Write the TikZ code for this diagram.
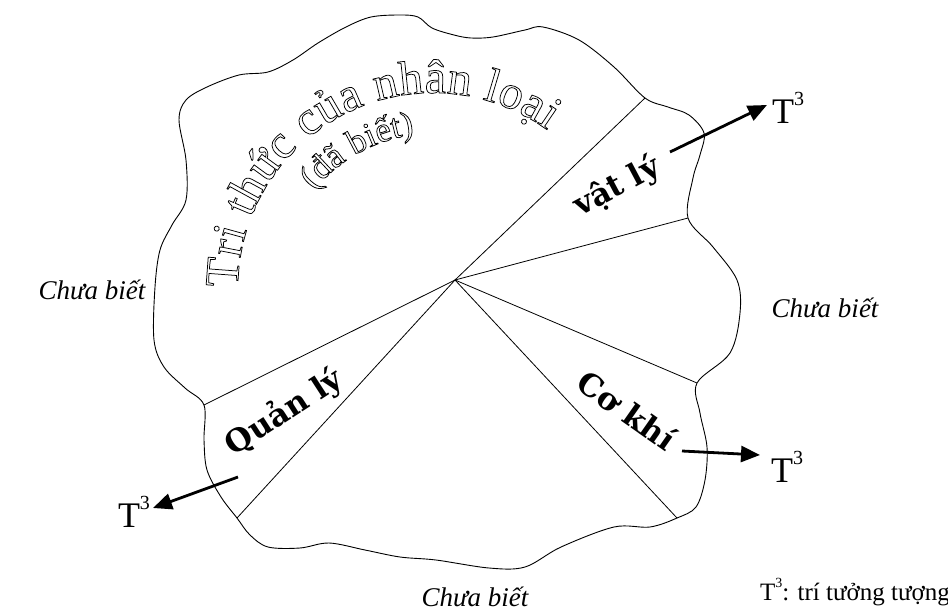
\documentclass[tikz,border=0pt]{standalone}
\usepackage{fontspec}
\setmainfont{Liberation Serif}
\newfontfamily\djv{DejaVu Serif}
\usetikzlibrary{arrows.meta,decorations.text}
\newcommand\outlon{\special{pdf:literal direct 1 Tr 0.75 w}}
\newcommand\tcube{T\raisebox{0.5em}{\fontsize{20}{20}\selectfont 3}}
\begin{document}
\begin{tikzpicture}[x=1pt,y=-1pt,
  outline/.style={line width=0.9pt, line join=round},
  radial/.style={line width=0.8pt},
  arr/.style={line width=2.8pt,-{Triangle[length=19pt,width=16pt]}},
  unk/.style={font=\fontsize{27}{27}\selectfont\itshape, inner sep=0pt},
  tlab/.style={font=\fontsize{36}{36}\selectfont, inner sep=0pt},
  field/.style={font=\djv\bfseries\fontsize{31}{31}\selectfont, inner sep=0pt},
]
\useasboundingbox (0,0) rectangle (948,611);
% boundary end points of the radial lines
\coordinate (h) at (455,280);
\coordinate (r1) at (645,98);
\coordinate (r2) at (688,218);
\coordinate (r3) at (697,383);
\coordinate (r4) at (677,518);
\coordinate (r5) at (237,518);
\coordinate (r6) at (204,405);
% outline
\draw[outline] plot[smooth cycle, tension=0.55] coordinates {
 (186,100) (207,87) (239,75) (268,72) (293,60) (318,43) (346,27) (371,17) (400,15) (418,17)
 (432,28) (454,35) (471,38) (493,37) (525,30) (543,27) (579,40) (614,67) (645,98)
 (668,107) (689,115) (704,133) (700,155) (693,178) (688,218)
 (713,247) (737,280) (740,313) (730,353) (697,383)
 (700,413) (707,447) (705,480) (696,507) (677,518)
 (650,527) (614,527) (561,547) (525,567) (489,568) (436,560) (400,557) (365,550)
 (329,543) (300,548) (268,547) (250,535) (237,518)
 (221,497) (207,470) (204,440) (204,405)
 (185,388) (164,367) (154,340) (155,287) (160,250) (172,225) (186,200) (186,160) (179,120)};
% radial lines
\foreach \r in {r1,r2,r3,r4,r5,r6} \draw[radial] (h) -- (\r);
% curved title
\path[decorate, decoration={text along path,
  text={|\fontsize{48}{48}\selectfont\outlon|Tri thức của nhân loại},
  text align={fit to path}}]
  (238,288) arc[start angle=180, end angle=306, radius=195];
\path[decorate, decoration={text along path,
  text={|\fontsize{35}{35}\selectfont\outlon|(đã biết)},
  text align={center}}]
  (302.3,206.6) arc[start angle=212, end angle=270, radius=156];
% field labels
\node[field, rotate=28] (vl) at (617,187) {vật lý};
\node[field, rotate=33] (ql) at (284,412) {Quản lý};
\node[field, rotate=-35] (ck) at (627,410) {Cơ khí};
% unknown labels
\node[unk] (cl) at (92,290) {Chưa biết};
\node[unk] (cr) at (825,308) {Chưa biết};
\node[unk] (cb) at (475,597) {Chưa biết};
% T3 labels and arrows
\node[tlab] (t1) at (788,108) {\tcube};
\node[tlab] (t2) at (787,467) {\tcube};
\node[tlab] (t3) at (134,512) {\tcube};
\coordinate (a1s) at (670,152); \coordinate (a1e) at (767,105);
\coordinate (a2s) at (682,451); \coordinate (a2e) at (760,455);
\coordinate (a3s) at (238,477); \coordinate (a3e) at (153,508);
\draw[arr] (a1s) -- (a1e);
\draw[arr] (a2s) -- (a2e);
\draw[arr] (a3s) -- (a3e);
% legend
\node[font=\fontsize{25}{25}\selectfont, inner sep=0pt] (leg) at (855,592) {T\raisebox{0.5em}{\fontsize{14}{14}\selectfont 3}: trí tưởng tượng};
\end{tikzpicture}
\end{document}
